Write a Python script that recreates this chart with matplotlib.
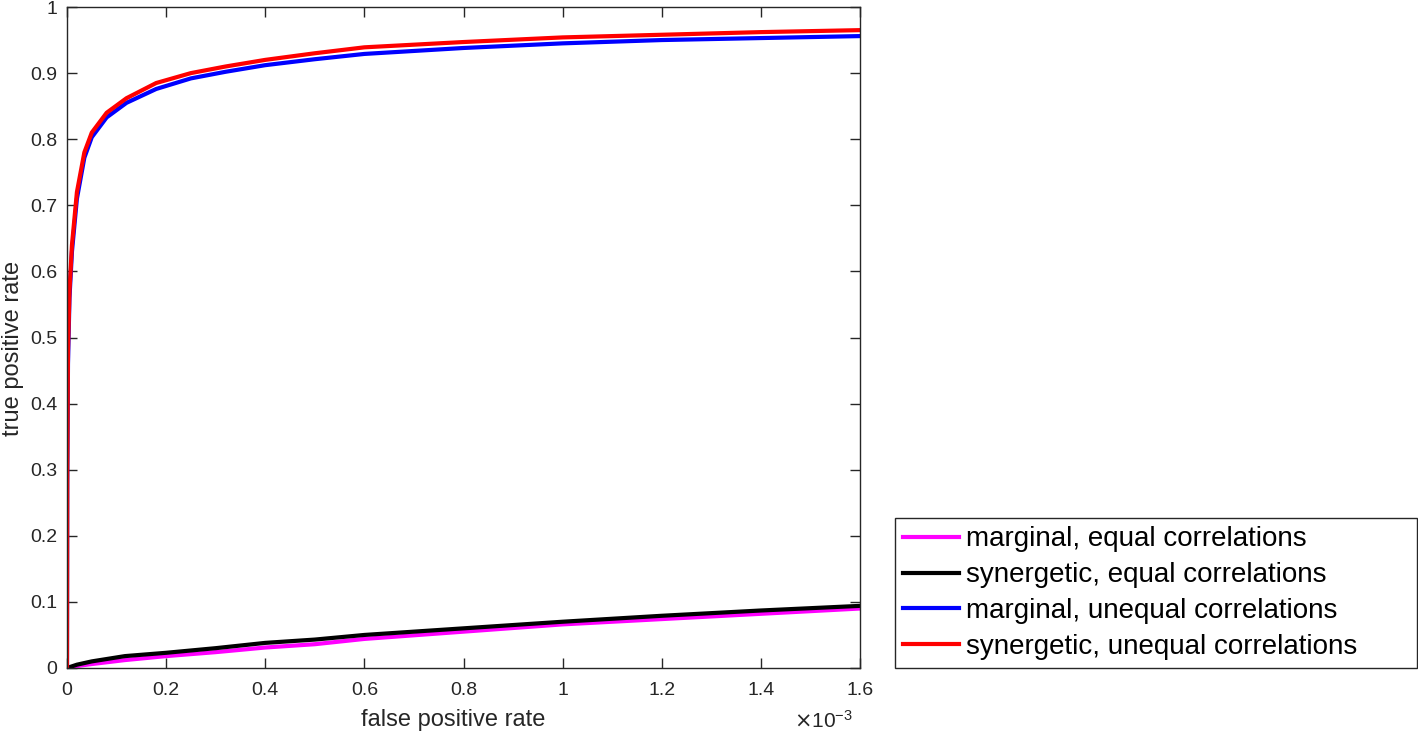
import numpy as np
import matplotlib.pyplot as plt

plt.rcParams['font.family'] = ['Liberation Sans', 'DejaVu Sans']

# false positive rate (x 1e-3) for the two steep curves
fpr_unequal = [0, 0.0005, 0.002, 0.005, 0.01, 0.02, 0.035, 0.05, 0.08, 0.12,
               0.18, 0.25, 0.32, 0.4, 0.5, 0.6, 0.8, 1.0, 1.2, 1.4, 1.6]
tpr_syn_unequal = [0, 0.30, 0.48, 0.57, 0.64, 0.72, 0.78, 0.81, 0.84, 0.862,
                   0.885, 0.900, 0.910, 0.920, 0.930, 0.939, 0.947, 0.954, 0.958, 0.962, 0.965]
tpr_marg_unequal = [0, 0.28, 0.46, 0.56, 0.63, 0.71, 0.772, 0.803, 0.833, 0.855,
                    0.876, 0.892, 0.902, 0.912, 0.921, 0.929, 0.938, 0.945, 0.950, 0.953, 0.956]

# false positive rate (x 1e-3) for the two flat curves
fpr_equal = [0, 0.02, 0.05, 0.117, 0.2, 0.3, 0.4, 0.5, 0.6, 0.8, 1.0, 1.2, 1.4, 1.6]
tpr_syn_equal = [0, 0.005, 0.010, 0.018, 0.023, 0.030, 0.038, 0.043, 0.050,
                 0.060, 0.070, 0.079, 0.087, 0.094]
tpr_marg_equal = [0, 0.003, 0.006, 0.012, 0.018, 0.024, 0.031, 0.036, 0.044,
                  0.055, 0.066, 0.074, 0.082, 0.090]

labels = ['marginal, equal correlations', 'synergetic, equal correlations',
          'marginal, unequal correlations', 'synergetic, unequal correlations']

fig = plt.figure(figsize=(14.18, 7.32), dpi=100)
ax = fig.add_axes([67 / 1418, 64 / 732, 793 / 1418, 661 / 732])

scale = 1e-3
lw = 3
ax.plot(np.array(fpr_equal) * scale, tpr_marg_equal, color='#ff00ff', lw=lw, label=labels[0])
ax.plot(np.array(fpr_equal) * scale, tpr_syn_equal, color='black', lw=lw, label=labels[1])
ax.plot(np.array(fpr_unequal) * scale, tpr_marg_unequal, color='#0000ff', lw=lw, label=labels[2])
ax.plot(np.array(fpr_unequal) * scale, tpr_syn_unequal, color='#ff0000', lw=lw, label=labels[3])

ax.set_xlim(0, 1.6e-3)
ax.set_ylim(0, 1)
ax.set_xticks(np.arange(0, 1.61, 0.2) * scale)
ax.set_yticks(np.arange(0, 1.01, 0.1))
ax.xaxis.set_major_formatter(plt.FuncFormatter(lambda v, p: '%g' % round(v / scale, 2)))
ax.yaxis.set_major_formatter(plt.FuncFormatter(lambda v, p: '%g' % round(v, 2)))
ax.tick_params(direction='in', top=True, right=True, length=7, width=1,
               labelsize=14, colors='#262626')
ax.tick_params(axis='x', pad=10)
ax.tick_params(axis='y', pad=7)
for s in ax.spines.values():
    s.set_color('#262626')
    s.set_linewidth(1)

# exponent label under the right end of the x axis
ax.text(0.991, -0.0905, r'$\times\mathregular{10^{-3}}$', transform=ax.transAxes,
        ha='right', va='baseline', fontsize=15, color='#262626')

ax.set_xlabel('false positive rate', fontsize=17, color='#262626', labelpad=7)
ax.set_ylabel('true positive rate', fontsize=17, color='#262626', labelpad=4)
ax.xaxis.label.set_x(0.487)
ax.yaxis.label.set_y(0.483)

leg = fig.legend(loc='lower left', bbox_to_anchor=(895 / 1418, 64 / 732, 522 / 1418, 151 / 732),
                 mode='expand', borderaxespad=0, fancybox=False, edgecolor='#262626',
                 fontsize=20, handlelength=2.0, handletextpad=0.25, borderpad=0.3,
                 labelspacing=0.35, framealpha=1)
leg.get_frame().set_linewidth(1)

fig.savefig('out.png', dpi=100)
